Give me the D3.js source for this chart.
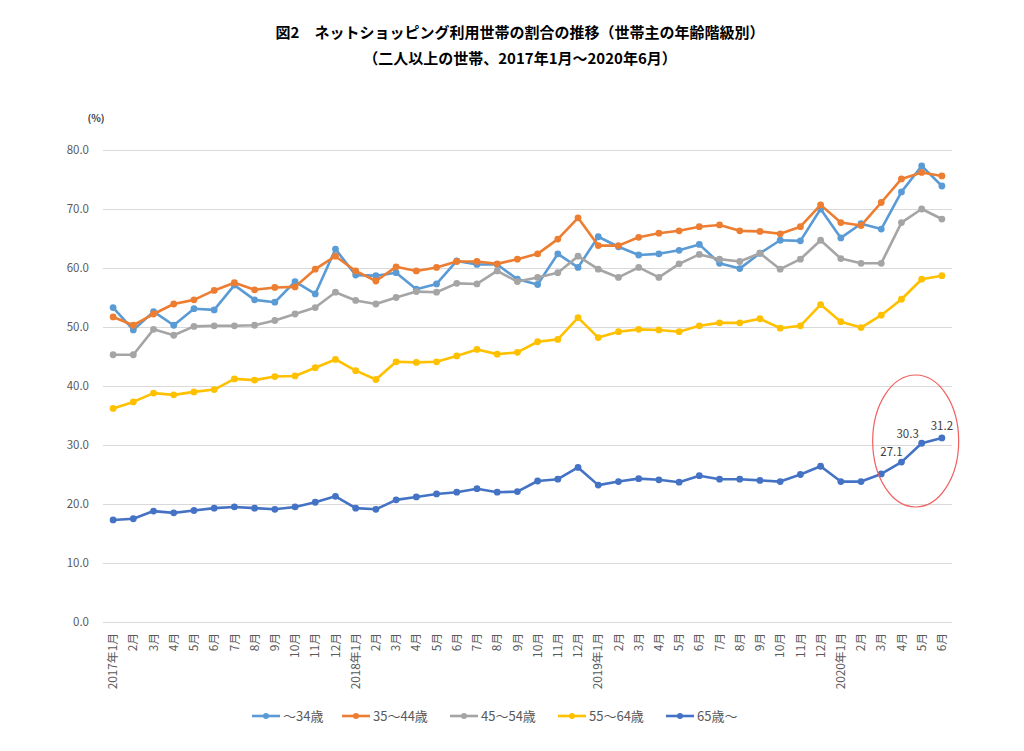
<!DOCTYPE html>
<html>
<head>
<meta charset="utf-8">
<script src="https://cdn.jsdelivr.net/npm/d3@7"></script>
<style>
  html, body { margin: 0; padding: 0; background: #fff; }
  svg { display: block; font-family: "Noto Sans CJK JP", "Noto Sans", sans-serif; }
</style>
</head>
<body>
<svg id="chart" width="1024" height="751"></svg>
<script>
// ---- data ----
const months = [];
for (let yr = 2017; yr <= 2020; yr++) {
  const last = yr === 2020 ? 6 : 12;
  for (let m = 1; m <= last; m++) months.push(yr + "-" + m);
}
const monthLabels = months.map(k => {
  const [yr, m] = k.split("-");
  return m === "1" ? yr + "年1月" : m + "月";
});
const seriesNames = ["～34歳", "35～44歳", "45～54歳", "55～64歳", "65歳～"];
const seriesColors = ["#5B9BD5", "#ED7D31", "#A5A5A5", "#FFC000", "#4472C4"];

const age34 = [53.3, 49.5, 52.6, 50.3, 53.1, 52.9, 57.1, 54.6, 54.2, 57.7, 55.6, 63.2,
  58.8, 58.7, 59.2, 56.4, 57.3, 61.2, 60.6, 60.6, 58.1, 57.2, 62.4, 60.1,
  65.3, 63.6, 62.2, 62.4, 63.0, 64.0, 60.8, 59.9, 62.5, 64.7, 64.6, 70.0,
  65.1, 67.5, 66.6, 72.9, 77.3, 73.9];
const age35_44 = [51.7, 50.3, 52.2, 53.9, 54.6, 56.2, 57.5, 56.3, 56.7, 56.8, 59.8, 62.0,
  59.5, 57.8, 60.2, 59.5, 60.1, 61.1, 61.1, 60.7, 61.5, 62.4, 64.9, 68.5,
  63.8, 63.8, 65.2, 65.9, 66.3, 67.0, 67.3, 66.3, 66.2, 65.8, 67.0, 70.7,
  67.7, 67.2, 71.1, 75.1, 76.2, 75.6];
const age45_54 = [45.3, 45.3, 49.6, 48.6, 50.1, 50.2, 50.2, 50.3, 51.1, 52.2, 53.3, 55.9,
  54.5, 53.9, 55.0, 56.0, 55.9, 57.4, 57.3, 59.5, 57.7, 58.4, 59.2, 62.0,
  59.8, 58.4, 60.1, 58.4, 60.7, 62.3, 61.5, 61.1, 62.5, 59.8, 61.5, 64.7,
  61.6, 60.8, 60.8, 67.7, 70.0, 68.3];
const age55_64 = [36.2, 37.3, 38.8, 38.5, 39.0, 39.4, 41.2, 41.0, 41.6, 41.7, 43.1, 44.5,
  42.6, 41.1, 44.1, 44.0, 44.1, 45.1, 46.2, 45.4, 45.7, 47.5, 47.9, 51.6,
  48.2, 49.2, 49.6, 49.5, 49.2, 50.2, 50.7, 50.7, 51.4, 49.8, 50.2, 53.8,
  50.9, 49.9, 52.0, 54.7, 58.1, 58.7];
const age65 = [17.3, 17.5, 18.8, 18.5, 18.9, 19.3, 19.5, 19.3, 19.1, 19.5, 20.3, 21.3,
  19.3, 19.1, 20.7, 21.2, 21.7, 22.0, 22.6, 22.0, 22.1, 23.9, 24.2, 26.2,
  23.2, 23.8, 24.3, 24.1, 23.7, 24.8, 24.2, 24.2, 24.0, 23.8, 25.0, 26.4,
  23.8, 23.8, 25.1, 27.1, 30.3, 31.2];
const seriesValues = [age34, age35_44, age45_54, age55_64, age65];
const yTicks = [0, 10, 20, 30, 40, 50, 60, 70, 80];
const labeledIdx = [39, 40, 41]; // labeled points of 65歳～
const titleLines = ["図2　ネットショッピング利用世帯の割合の推移（世帯主の年齢階級別）",
                    "（二人以上の世帯、2017年1月～2020年6月）"];

// ---- layout ----
const svg = d3.select("#chart");
const plotLeft = 103, plotRight = 952, plotTop = 150, plotBottom = 622;

const x = d3.scaleBand().domain(months).range([plotLeft, plotRight]).padding(0);
const cx = k => x(k) + x.bandwidth() / 2;
const y = d3.scaleLinear().domain([0, 80]).range([plotBottom, plotTop]);

// title
svg.selectAll("text.title").data(titleLines).join("text")
  .attr("class", "title")
  .attr("x", 520).attr("y", (d, i) => 38 + i * 26)
  .attr("text-anchor", "middle")
  .attr("font-size", 15).attr("font-weight", "bold").attr("fill", "#000")
  .text(d => d);

// y axis (gridlines + labels)
const yAxis = d3.axisLeft(y).tickValues(yTicks).tickFormat(d3.format(".1f"))
  .tickSize(-(plotRight - plotLeft)).tickPadding(14);
const gy = svg.append("g").attr("transform", `translate(${plotLeft},0)`).call(yAxis);
gy.select(".domain").remove();
gy.selectAll(".tick line").attr("stroke", "#d9d9d9").attr("stroke-width", 1);
gy.selectAll(".tick text").attr("fill", "#595959").attr("font-size", 11.5)
  .attr("font-family", "'Noto Sans CJK JP', sans-serif");

svg.append("text").attr("x", 96).attr("y", 122).attr("text-anchor", "middle")
  .attr("font-size", 10).attr("font-weight", "bold").attr("fill", "#404040").text("(%)");

// x axis labels
const xAxis = d3.axisBottom(x).tickFormat((d, i) => monthLabels[i]).tickSize(0).tickPadding(0);
const gx = svg.append("g").attr("transform", `translate(0,${plotBottom})`).call(xAxis);
gx.select(".domain").remove();
gx.selectAll(".tick text")
  .attr("transform", "translate(0,11) rotate(-90)")
  .attr("text-anchor", "end")
  .attr("x", 0).attr("y", 0).attr("dy", "0.35em")
  .attr("fill", "#595959").attr("font-size", 11.8)
  .attr("font-family", "'Noto Sans CJK JP', sans-serif");

// lines
const line = d3.line().x((d, i) => cx(months[i])).y(d => y(d));
seriesValues.forEach((vals, s) => {
  const g = svg.append("g");
  g.append("path").datum(vals).attr("d", line)
    .attr("fill", "none").attr("stroke", seriesColors[s]).attr("stroke-width", 2.6)
    .attr("stroke-linejoin", "round");
  g.selectAll("circle").data(vals).join("circle")
    .attr("cx", (d, i) => cx(months[i])).attr("cy", d => y(d)).attr("r", 3.4)
    .attr("fill", seriesColors[s]);
});

// data labels on 65歳～
const labelOffsets = [[-10, -6], [-14, -5], [0, -8]];
labeledIdx.forEach((idx, j) => {
  svg.append("text")
    .attr("x", cx(months[idx]) + labelOffsets[j][0])
    .attr("y", y(age65[idx]) + labelOffsets[j][1])
    .attr("text-anchor", "middle").attr("font-size", 11.5).attr("fill", "#404040")
    .text(d3.format(".1f")(age65[idx]));
});

// highlight ellipse
svg.append("ellipse")
  .attr("cx", (cx(months[39]) + cx(months[41])) / 2 - 6)
  .attr("cy", y(30) - 4)
  .attr("rx", 43).attr("ry", 66)
  .attr("fill", "none").attr("stroke", "#f25f5f").attr("stroke-width", 1.2);

// legend
const legendX = [252, 342, 450, 558, 666];
const lg = svg.append("g").attr("transform", "translate(0,716)");
seriesNames.forEach((name, i) => {
  const g = lg.append("g").attr("transform", `translate(${legendX[i]},0)`);
  g.append("line").attr("x1", 0).attr("x2", 28).attr("y1", 0).attr("y2", 0)
    .attr("stroke", seriesColors[i]).attr("stroke-width", 2.6);
  g.append("circle").attr("cx", 14).attr("cy", 0).attr("r", 3).attr("fill", seriesColors[i]);
  g.append("text").attr("x", 31).attr("y", 0).attr("dy", "0.35em")
    .attr("font-size", 13).attr("fill", "#595959").text(name);
});
</script>
</body>
</html>
